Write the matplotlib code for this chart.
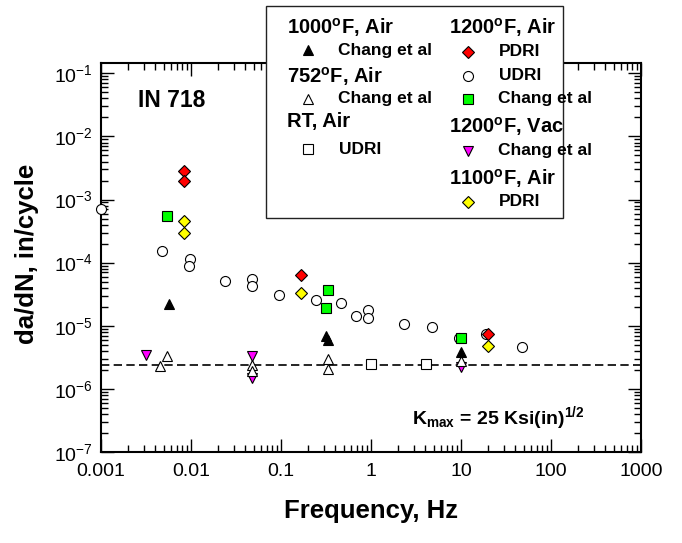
import matplotlib
matplotlib.use('Agg')
import matplotlib.pyplot as plt
from matplotlib.patches import Rectangle
from matplotlib.ticker import LogLocator, FixedLocator, NullFormatter

plt.rcParams['font.family'] = ['Liberation Sans', 'DejaVu Sans']
plt.rcParams['mathtext.fontset'] = 'custom'
plt.rcParams['mathtext.rm'] = 'Liberation Sans'
plt.rcParams['mathtext.bf'] = 'Liberation Sans:bold'
plt.rcParams['mathtext.it'] = 'Liberation Sans:italic'

# 1000F, air - Chang et al
f_1000_chang = [0.00565, 0.32, 0.33, 10.0]
dadn_1000_chang = [2.2e-5, 7.0e-6, 6.0e-6, 3.8e-6]

# 752F, air - Chang et al
f_752_chang = [0.00537, 0.00456, 0.048, 0.048, 0.33, 0.335, 10.0]
dadn_752_chang = [3.3e-6, 2.3e-6, 2.4e-6, 1.9e-6, 3.0e-6, 2.1e-6, 2.8e-6]

# RT, air - UDRI
f_rt_udri = [1.0, 4.05]
dadn_rt_udri = [2.5e-6, 2.5e-6]

# 1200F, air - PDRI / UDRI / Chang et al
f_1200_pdri = [0.0083, 0.0083, 0.167, 20.0]
dadn_1200_pdri = [2.8e-3, 2.0e-3, 6.4e-5, 7.3e-6]

f_1200_udri = [0.001, 0.00476, 0.0098, 0.0094, 0.0239, 0.0472, 0.0472, 0.094,
               0.245, 0.468, 0.68, 0.93, 0.93, 2.34, 4.72, 9.5, 19.0, 48.0]
dadn_1200_udri = [7.0e-4, 1.53e-4, 1.13e-4, 8.9e-5, 5.05e-5, 5.5e-5, 4.2e-5, 3.1e-5,
                  2.6e-5, 2.27e-5, 1.42e-5, 1.78e-5, 1.33e-5, 1.06e-5, 9.5e-6, 6.3e-6,
                  7.3e-6, 4.6e-6]

f_1200_chang = [0.00546, 0.336, 0.316, 10.0]
dadn_1200_chang = [5.5e-4, 3.7e-5, 1.9e-5, 6.3e-6]

# 1200F, vacuum - Chang et al
f_vac_chang = [0.00316, 0.048, 0.048, 10.0]
dadn_vac_chang = [3.5e-6, 3.3e-6, 1.5e-6, 2.2e-6]

# 1100F, air - PDRI
f_1100_pdri = [0.0083, 0.0083, 0.167, 20.0]
dadn_1100_pdri = [4.5e-4, 3.0e-4, 3.3e-5, 4.7e-6]

# threshold level (dashed)
dadn_level = 2.4e-6

x_ticks = [0.001, 0.01, 0.1, 1, 10, 100, 1000]
x_ticklabels = ['0.001', '0.01', '0.1', '1', '10', '100', '1000']
y_ticks = [1e-7, 1e-6, 1e-5, 1e-4, 1e-3, 1e-2, 1e-1]
y_ticklabels = ['10$^{-7}$', '10$^{-6}$', '10$^{-5}$', '10$^{-4}$',
                '10$^{-3}$', '10$^{-2}$', '10$^{-1}$']

# marker styles
sty_tri_black = dict(marker='^', ms=7.5, mfc='black', mec='black', mew=0.8)
sty_tri_white = dict(marker='^', ms=7.5, mfc='white', mec='black', mew=0.8)
sty_sq_white = dict(marker='s', ms=7.0, mfc='white', mec='black', mew=0.8)
sty_dia_red = dict(marker='D', ms=6.5, mfc='#ff0000', mec='black', mew=0.8)
sty_circle = dict(marker='o', ms=7.2, mfc='white', mec='black', mew=0.8)
sty_sq_green = dict(marker='s', ms=7.0, mfc='#00ff00', mec='black', mew=0.8)
sty_tri_mag = dict(marker='v', ms=7.5, mfc='#ff00ff', mec='black', mew=0.8)
sty_dia_yel = dict(marker='D', ms=6.5, mfc='#ffff00', mec='black', mew=0.8)

W, H = 682, 543
fig = plt.figure(figsize=(W / 100, H / 100), dpi=100)
ax = fig.add_axes([101 / W, 1 - 452 / H, 540 / W, 388.7 / H])

ax.axhline(dadn_level, color='black', lw=1.2, ls=(0, (5, 2.6)), zorder=1)

series = [
    (f_1200_udri, dadn_1200_udri, sty_circle),
    (f_vac_chang, dadn_vac_chang, sty_tri_mag),
    (f_752_chang, dadn_752_chang, sty_tri_white),
    (f_rt_udri, dadn_rt_udri, sty_sq_white),
    (f_1000_chang, dadn_1000_chang, sty_tri_black),
    (f_1200_chang, dadn_1200_chang, sty_sq_green),
    (f_1100_pdri, dadn_1100_pdri, sty_dia_yel),
    (f_1200_pdri, dadn_1200_pdri, sty_dia_red),
]
for xs, ys, st in series:
    ax.plot(xs, ys, ls='none', clip_on=False, zorder=3, **st)

ax.set_xscale('log')
ax.set_yscale('log')
ax.set_xlim(0.001, 1000)
ax.set_ylim(1e-7, 0.144)

ax.xaxis.set_major_locator(FixedLocator(x_ticks))
ax.set_xticklabels(x_ticklabels)
ax.yaxis.set_major_locator(FixedLocator(y_ticks))
ax.set_yticklabels(y_ticklabels)
ax.xaxis.set_minor_locator(LogLocator(base=10, subs=range(2, 10), numticks=50))
ax.yaxis.set_minor_locator(LogLocator(base=10, subs=range(2, 10), numticks=50))
ax.xaxis.set_minor_formatter(NullFormatter())
ax.yaxis.set_minor_formatter(NullFormatter())

ax.tick_params(which='both', direction='in', top=True, right=True, labelsize=14)
ax.tick_params(which='major', length=9.5, width=1.0)
ax.tick_params(which='minor', length=5, width=1.0)
ax.tick_params(axis='x', which='major', pad=8)
ax.tick_params(axis='y', which='major', pad=6)
for sp in ax.spines.values():
    sp.set_linewidth(1.5)

ax.set_xlabel('Frequency, Hz', fontsize=18.5, fontweight='bold', va='center')
ax.xaxis.set_label_coords(0.5, -0.152)
ax.set_ylabel('da/dN, in/cycle', fontsize=18.5, fontweight='bold', va='center')
ax.yaxis.set_label_coords(-0.137, 0.51)

ax.text(0.0685, 0.905, 'IN 718', transform=ax.transAxes, fontsize=16.5,
        fontweight='bold', va='center', ha='left')
ax.text(0.575, 0.088, r'K$_{\mathbf{max}}$ = 25 Ksi(in)$^{\mathbf{1/2}}$',
        transform=ax.transAxes, fontsize=14, fontweight='bold',
        va='center', ha='left')

# legend box drawn in figure pixel space, on top of the axes
lg = fig.add_axes([0, 0, 1, 1], zorder=5)
lg.set_xlim(0, W)
lg.set_ylim(H, 0)
lg.set_axis_off()
lg.add_patch(Rectangle((266, 6), 297, 212, fc='white', ec='#222222', lw=1.0))

headers = [
    (287, 28, '1000$^{\\mathbf{o}}$F, Air'),
    (287, 77, '752$^{\\mathbf{o}}$F, Air'),
    (287, 122, 'RT, Air'),
    (449, 28, '1200$^{\\mathbf{o}}$F, Air'),
    (449, 126, '1200$^{\\mathbf{o}}$F, Vac'),
    (449, 178, '1100$^{\\mathbf{o}}$F, Air'),
]
for x, y, s in headers:
    lg.text(x, y, s, fontsize=14.5, fontweight='bold', ha='left', va='center')

entries = [
    (308, 50, 'Chang et al', sty_tri_black),
    (308, 99, 'Chang et al', sty_tri_white),
    (308, 149, 'UDRI', sty_sq_white),
    (468, 52, 'PDRI', sty_dia_red),
    (468, 76, 'UDRI', sty_circle),
    (468, 99, 'Chang et al', sty_sq_green),
    (468, 151, 'Chang et al', sty_tri_mag),
    (468, 202, 'PDRI', sty_dia_yel),
]
for x, y, s, st in entries:
    lg.plot([x], [y], ls='none', **st)
    lg.text(x + 30.5, y, s, fontsize=12.5, fontweight='bold', ha='left', va='center')

fig.savefig('out.png', dpi=100)
